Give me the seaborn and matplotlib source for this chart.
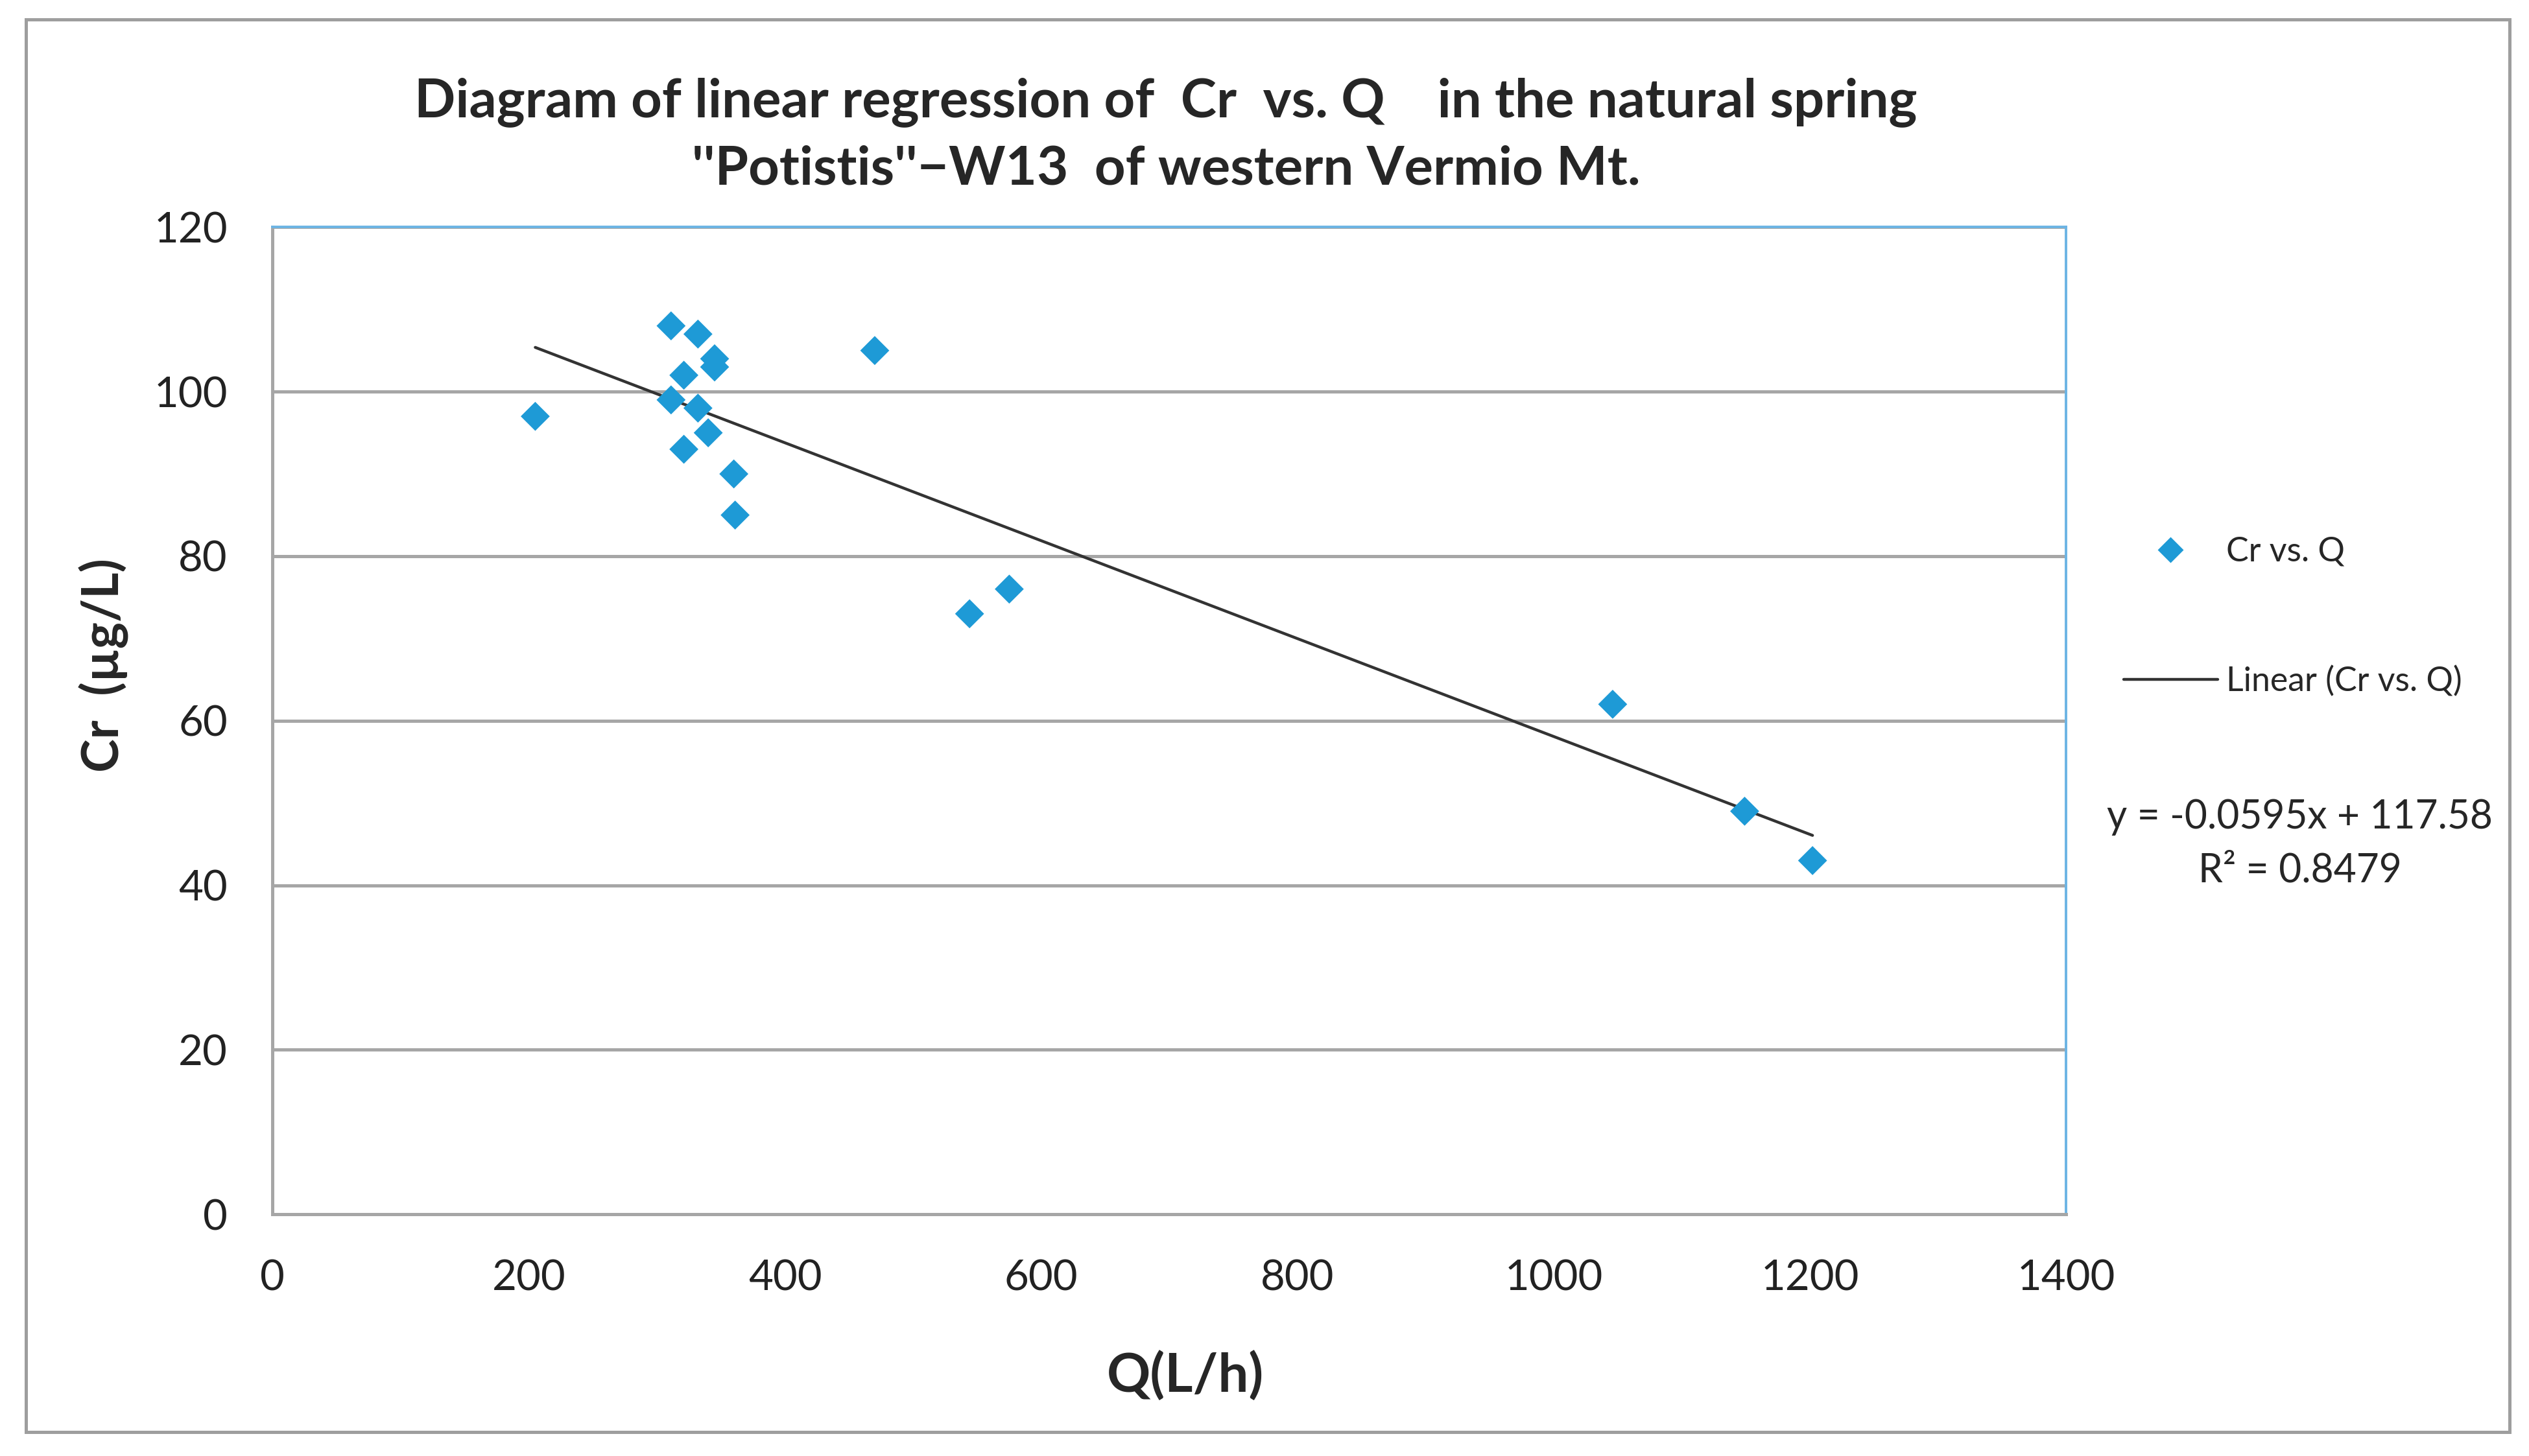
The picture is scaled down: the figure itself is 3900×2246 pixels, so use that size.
import numpy as np
import pandas as pd
import seaborn as sns
import matplotlib.pyplot as plt
from matplotlib.patches import Rectangle
from matplotlib.lines import Line2D

# Discharge Q (L/h) and Cr (ug/L)
q_values = [205, 311, 332, 345, 345, 321, 311, 332, 340, 321, 360, 361, 470, 544, 575, 1046, 1149, 1202]
cr_values = [97, 108, 107, 104, 103, 102, 99, 98, 95, 93, 90, 85, 105, 73, 76, 62, 49, 43]

# trendline as printed on the chart
slope = -0.0595
intercept = 117.58
r_squared = 0.8479

x_ticks = [0, 200, 400, 600, 800, 1000, 1200, 1400]
y_ticks = [0, 20, 40, 60, 80, 100, 120]

sns.set_theme(style="white")
plt.rcParams["font.family"] = ["Lato", "DejaVu Sans"]

blue = "#1E9AD6"
grid_grey = "#A6A6A6"

df = pd.DataFrame({"Q": q_values, "Cr": cr_values})
trend = pd.DataFrame({"Q": [min(q_values), max(q_values)]})
trend["Cr"] = slope * trend["Q"] + intercept

fig = plt.figure(figsize=(19.5, 11.23), dpi=200)
ax = fig.add_axes([0.1078, 0.166, 0.7092, 0.678])

ax.set_axisbelow(True)
ax.yaxis.grid(True, color=grid_grey, linewidth=1.8)
ax.xaxis.grid(False)

sns.lineplot(data=trend, x="Q", y="Cr", ax=ax, color="#333333", linewidth=1.6, zorder=2)
sns.scatterplot(data=df, x="Q", y="Cr", ax=ax, marker="D", s=130, color=blue,
                edgecolor="none", zorder=3)

ax.set_xlim(0, 1400)
ax.set_ylim(0, 120)
ax.set_xticks(x_ticks)
ax.set_yticks(y_ticks)
ax.tick_params(axis="both", labelsize=23.5, length=9, width=1.8, direction="out")
ax.tick_params(axis="x", color=grid_grey, labelcolor="#222222", pad=16)
ax.tick_params(axis="y", color=grid_grey, labelcolor="#222222", pad=16)

for side in ["left", "bottom"]:
    ax.spines[side].set_color(grid_grey)
    ax.spines[side].set_linewidth(1.8)
for side in ["top", "right"]:
    ax.spines[side].set_color("#6CB4E4")
    ax.spines[side].set_linewidth(1.4)

ax.set_xlabel("Q(L/h)", fontsize=30, fontweight="bold")
ax.set_ylabel("Cr  (\u00b5g/L)", fontsize=28, fontweight="bold")
ax.xaxis.set_label_coords(0.509, -0.138)
ax.yaxis.set_label_coords(-0.080, 0.556)

fig.text(0.461, 0.930, "Diagram of linear regression of  Cr  vs. Q    in the natural spring",
         ha="center", va="center", fontsize=30, fontweight="bold")
fig.text(0.461, 0.884, "''Potistis''\u2212W13  of western Vermio Mt.",
         ha="center", va="center", fontsize=30, fontweight="bold")

# legend entries drawn to the right of the plot area
handles = [
    Line2D([], [], marker="D", linestyle="none", color=blue, markersize=9),
    Line2D([], [], color="#333333", linewidth=1.6),
]
labels = ["Cr vs. Q", "Linear (Cr vs. Q)"]
fig.legend(handles, labels, loc="upper left", bbox_to_anchor=(0.833, 0.643),
           frameon=False, fontsize=18.7, labelspacing=2.93, handlelength=2.8,
           handletextpad=0.25, borderpad=0)

fig.text(0.9094, 0.4203, f"y = {slope}x + {intercept}\nR\u00b2 = {r_squared}",
         ha="center", va="center", fontsize=21.8, linespacing=1.55)

# outer chart border
fig.add_artist(Rectangle((0.0102, 0.0166), 0.9821, 0.9701, transform=fig.transFigure,
                         fill=False, edgecolor="#9E9E9E", linewidth=1.8))

fig.savefig("out.png", dpi=200, facecolor="white")
